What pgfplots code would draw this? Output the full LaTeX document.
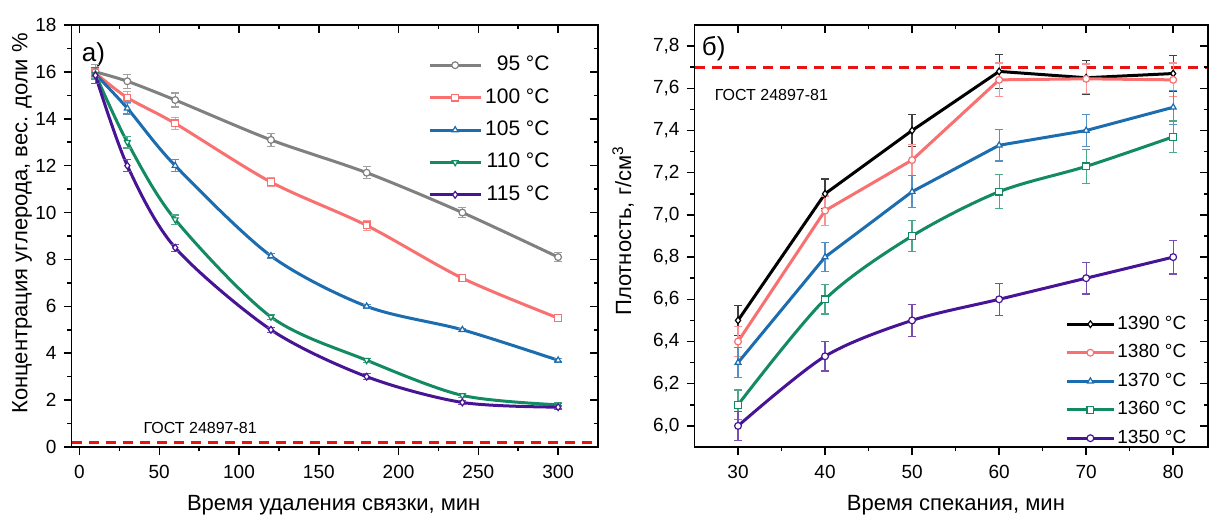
\documentclass[border=0pt]{standalone}
\usepackage{fontspec}
\setmainfont{Liberation Sans}
\usepackage{pgfplots}
\pgfplotsset{compat=1.18}

\definecolor{cgray}{RGB}{128,128,128}
\definecolor{cred}{RGB}{248,112,112}
\definecolor{cblue}{RGB}{28,108,176}
\definecolor{cgreen}{RGB}{18,138,98}
\definecolor{cpurple}{RGB}{72,20,150}
\definecolor{cblack}{RGB}{0,0,0}
\definecolor{gost}{RGB}{232,20,20}

\newcommand\tickf{\fontsize{9.5}{11}\selectfont}
\newcommand\labf{\fontsize{11}{13}\selectfont}
\newcommand\gostf{\fontsize{8}{9.5}\selectfont}
\newcommand\panelf{\fontsize{13}{15}\selectfont}

\pgfplotsset{
  frame/.style={scale only axis, axis line style={line width=0.9pt},
    every tick/.style={black, line width=0.75pt},
    major tick length=4pt, minor tick length=2.2pt,
    /pgf/number format/assume math mode=true,
    tick label style={font=\tickf},
    clip=false},
  ser/.style={line width=1.5pt, color=#1,
    mark options={solid, fill=white, line width=0.6pt, mark size=1.7pt, draw=#1},
    error bars/y dir=both, error bars/y explicit,
    error bars/error bar style={line width=0.6pt, #1!75!white, solid},
    error bars/error mark options={rotate=90, mark size=2pt, line width=0.6pt, #1!75!white}},
}

\begin{document}
\begin{tikzpicture}
\useasboundingbox (0,0) rectangle (604.5pt,257.5pt);

% ---------------- left panel ----------------
\begin{axis}[frame, at={(35.75pt,34pt)}, anchor=south west,
  width=263.25pt, height=211pt,
  xmin=-5, xmax=325, ymin=0, ymax=18,
  xtick={0,50,...,300}, minor x tick num=1,
  ytick={0,2,...,18}, minor y tick num=1,
  tick align=outside, tick pos=left,
  xticklabel style={yshift=-1.5pt},
  xlabel={Время удаления связки, мин},
  ylabel={Концентрация углерода, вес. доли \%},
  xlabel style={font=\labf, at={(axis description cs:0.498,-0.137)}, anchor=center},
  ylabel style={font=\labf, at={(axis description cs:-0.094,0.53)}, anchor=center},
  legend style={draw=none, fill=none, at={(axis description cs:0.9145,0.936)}, anchor=north east,
    font=\fontsize{10.5}{12}\selectfont, inner sep=0pt, row sep=3.4pt,
    nodes={inner sep=1.5pt, text height=7.6pt, text depth=2.2pt}},
  legend cell align=right,
  legend image code/.code={\draw[mark repeat=2,mark phase=2,#1] plot coordinates {(0pt,0pt) (12.75pt,0pt) (25.5pt,0pt)};},
]
\addplot[gost, line width=1.5pt, dash pattern=on 5pt off 3.5pt, forget plot] coordinates {(-5,0.2) (325,0.2)};
\node[anchor=west, font=\gostf, inner sep=0pt] at (axis cs:40,0.81) {ГОСТ 24897-81};
\node[anchor=west, font=\panelf, inner sep=0pt] at (axis cs:1.3,16.75) {а)};

\addplot[ser=cgray, smooth, mark=*] coordinates {
 (10,16.0) +- (0,0.3)
 (30,15.6) +- (0,0.3)
 (60,14.8) +- (0,0.3)
 (120,13.1) +- (0,0.28)
 (180,11.7) +- (0,0.25)
 (240,10.0) +- (0,0.22)
 (300,8.1) +- (0,0.18)
};
\addlegendentry{95 °C}
\addplot[ser=cred, smooth, mark=square*] coordinates {
 (10,15.95) +- (0,0.2)
 (30,14.9) +- (0,0.25)
 (60,13.8) +- (0,0.25)
 (120,11.3) +- (0,0.2)
 (180,9.45) +- (0,0.2)
 (240,7.2) +- (0,0.12)
 (300,5.5) +- (0,0.1)
};
\addlegendentry{100 °C}
\addplot[ser=cblue, smooth, mark=triangle*] coordinates {
 (10,15.9) +- (0,0.2)
 (30,14.45) +- (0,0.25)
 (60,12.0) +- (0,0.25)
 (120,8.15) +- (0,0.1)
 (180,6.0) +- (0,0.07)
 (240,5.0) +- (0,0.07)
 (300,3.7) +- (0,0.07)
};
\addlegendentry{105 °C}
\addplot[ser=cgreen, smooth, mark=triangle*,
  mark options={solid, fill=white, line width=0.6pt, mark size=1.7pt, draw=cgreen, rotate=180}] coordinates {
 (10,15.9) +- (0,0.2)
 (30,13.0) +- (0,0.25)
 (60,9.7) +- (0,0.2)
 (120,5.55) +- (0,0.1)
 (180,3.7) +- (0,0.08)
 (240,2.2) +- (0,0.08)
 (300,1.8) +- (0,0.08)
};
\addlegendentry{110 °C}
\addplot[ser=cpurple, smooth, mark=diamond*] coordinates {
 (10,15.85) +- (0,0.35)
 (30,12.0) +- (0,0.25)
 (60,8.5) +- (0,0.15)
 (120,5.0) +- (0,0.1)
 (180,3.0) +- (0,0.12)
 (240,1.9) +- (0,0.1)
 (300,1.7) +- (0,0.08)
};
\addlegendentry{115 °C}
\end{axis}
\begin{axis}[frame, at={(35.75pt,34pt)}, anchor=south west,
  width=263.25pt, height=211pt,
  xmin=-5, xmax=325, ymin=0, ymax=18,
  xtick={0,50,...,300}, minor x tick num=1,
  ytick={0,2,...,18}, minor y tick num=1,
  tick align=inside, tick pos=right, xticklabels={}, yticklabels={}]
\end{axis}

% ---------------- right panel ----------------
\begin{axis}[frame, at={(347.25pt,34pt)}, anchor=south west,
  width=256.75pt, height=211pt,
  xmin=25, xmax=84, ymin=5.9, ymax=7.9,
  xtick={30,40,...,80}, minor x tick num=1,
  ytick={6,6.2,6.4,6.6,6.8,7,7.2,7.4,7.6,7.8}, minor y tick num=1,
  yticklabel style={/pgf/number format/.cd, fixed, fixed zerofill, precision=1, use comma},
  tick align=outside, tick pos=left,
  xticklabel style={yshift=-1.5pt},
  xlabel={Время спекания, мин},
  ylabel={Плотность, г/см\textsuperscript{3}},
  xlabel style={font=\labf, at={(axis description cs:0.509,-0.137)}, anchor=center},
  ylabel style={font=\labf, at={(axis description cs:-0.139,0.512)}, anchor=center},
  legend style={draw=none, fill=none, at={(axis description cs:0.7215,0.318)}, anchor=north west,
    font=\fontsize{9.5}{11}\selectfont, inner sep=0pt, row sep=3.25pt,
    nodes={inner sep=1pt, text height=7pt, text depth=2pt}},
  legend cell align=left,
  legend image code/.code={\draw[mark repeat=2,mark phase=2,#1] plot coordinates {(0pt,0pt) (11.75pt,0pt) (23.5pt,0pt)};},
]
\addplot[gost, line width=1.5pt, dash pattern=on 5pt off 3.5pt, forget plot] coordinates {(25,7.7) (84,7.7)};
\node[anchor=west, font=\gostf, inner sep=0pt] at (axis cs:27.3,7.568) {ГОСТ 24897-81};
\node[anchor=west, font=\panelf, inner sep=0pt] at (axis cs:25.8,7.786) {б)};

\addplot[ser=cblack, mark=diamond*] coordinates {
 (30,6.50) +- (0,0.07)
 (40,7.10) +- (0,0.07)
 (50,7.40) +- (0,0.075)
 (60,7.68) +- (0,0.08)
 (70,7.65) +- (0,0.08)
 (80,7.67) +- (0,0.085)
};
\addlegendentry{1390 °C}
\addplot[ser=cred, mark=*] coordinates {
 (30,6.40) +- (0,0.07)
 (40,7.02) +- (0,0.07)
 (50,7.26) +- (0,0.075)
 (60,7.64) +- (0,0.08)
 (70,7.645) +- (0,0.07)
 (80,7.64) +- (0,0.08)
};
\addlegendentry{1380 °C}
\addplot[ser=cblue, mark=triangle*] coordinates {
 (30,6.30) +- (0,0.07)
 (40,6.80) +- (0,0.07)
 (50,7.11) +- (0,0.075)
 (60,7.33) +- (0,0.075)
 (70,7.40) +- (0,0.075)
 (80,7.51) +- (0,0.08)
};
\addlegendentry{1370 °C}
\addplot[ser=cgreen, smooth, mark=square*] coordinates {
 (30,6.10) +- (0,0.07)
 (40,6.60) +- (0,0.07)
 (50,6.90) +- (0,0.075)
 (60,7.11) +- (0,0.08)
 (70,7.23) +- (0,0.08)
 (80,7.37) +- (0,0.075)
};
\addlegendentry{1360 °C}
\addplot[ser=cpurple, smooth, mark=*] coordinates {
 (30,6.00) +- (0,0.07)
 (40,6.33) +- (0,0.07)
 (50,6.50) +- (0,0.075)
 (60,6.60) +- (0,0.075)
 (70,6.70) +- (0,0.075)
 (80,6.80) +- (0,0.08)
};
\addlegendentry{1350 °C}
\end{axis}
\begin{axis}[frame, at={(347.25pt,34pt)}, anchor=south west,
  width=256.75pt, height=211pt,
  xmin=25, xmax=84, ymin=5.9, ymax=7.9,
  xtick={30,40,...,80}, minor x tick num=1,
  ytick={6,6.2,6.4,6.6,6.8,7,7.2,7.4,7.6,7.8}, minor y tick num=1,
  tick align=inside, tick pos=right, xticklabels={}, yticklabels={}]
\end{axis}
\end{tikzpicture}
\end{document}
